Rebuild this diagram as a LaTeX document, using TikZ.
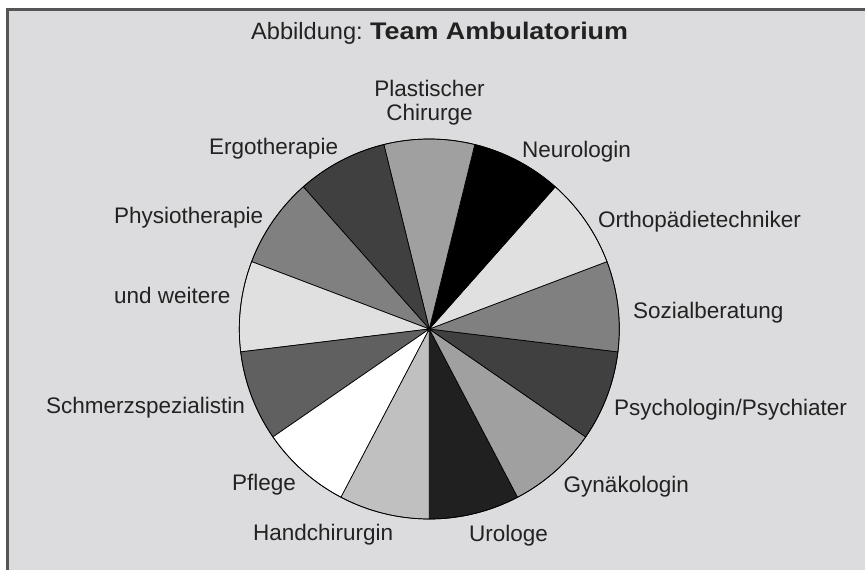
\documentclass[tikz,border=0pt]{standalone}
\usepackage{fontspec}
\setmainfont{Liberation Sans}
\definecolor{bg}{HTML}{DCDCDE}
\definecolor{framecol}{HTML}{555555}
\definecolor{txt}{HTML}{222222}
\definecolor{sUro}{HTML}{202020}
\definecolor{sGyn}{HTML}{A0A0A0}
\definecolor{sPsy}{HTML}{404040}
\definecolor{sSoz}{HTML}{808080}
\definecolor{sOrt}{HTML}{E0E0E0}
\definecolor{sNeu}{HTML}{000000}
\definecolor{sPla}{HTML}{A0A0A0}
\definecolor{sErg}{HTML}{404040}
\definecolor{sPhy}{HTML}{808080}
\definecolor{sUnd}{HTML}{E0E0E0}
\definecolor{sSch}{HTML}{606060}
\definecolor{sPfl}{HTML}{FFFFFF}
\definecolor{sHan}{HTML}{C0C0C0}
\begin{document}
\begin{tikzpicture}[x=1pt,y=1pt,
  lbl/.style={anchor=base west, inner sep=0pt, text=txt, font=\fontsize{22.5}{27}\selectfont},
  slice/.style={draw=black, line width=0.7pt, line join=round}]
\useasboundingbox (0,0) rectangle (865,-570);
\fill[white] (0,0) rectangle (865,-570);
\fill[bg] (7.5,-9.5) rectangle (870,-575);
\draw[framecol, line width=3pt] (7.5,-575) -- (7.5,-9.5) -- (870,-9.5);
% title
\node[anchor=base west, inner sep=0pt, text=txt, font=\fontsize{23.6}{27}\selectfont] (title1) at (251,-39.5) {Abbildung:};
\node[anchor=base west, inner sep=0pt, text=txt] (title2) at (370,-39.5) {\scalebox{1.12}[1]{\fontsize{24}{28}\selectfont\bfseries Team Ambulatorium}};
% pie
\coordinate (C) at (429.3,-329);
\foreach \c [count=\i from 0] in {sUro,sGyn,sPsy,sSoz,sOrt,sNeu,sPla,sErg,sPhy,sUnd,sSch,sPfl,sHan} {
  \pgfmathsetmacro\a{-90+\i*360/13}
  \pgfmathsetmacro\b{\a+360/13}
  \filldraw[slice, fill=\c] (C) -- ++(\a:190) arc[start angle=\a, end angle=\b, radius=190] -- cycle;
}
\draw[line width=0.7pt] (C) circle[radius=190];
% labels
\node[lbl, anchor=base] (pla1) at (429.5,-96.7) {Plastischer};
\node[lbl, anchor=base] (pla2) at (429.5,-120.7) {Chirurge};
\node[lbl] (erg) at (209,-154) {Ergotherapie};
\node[lbl] (neu) at (522,-157) {Neurologin};
\node[lbl] (ort) at (598,-227) {Orthopädietechniker};
\node[lbl] (phy) at (114,-223) {Physiotherapie};
\node[lbl] (soz) at (633,-318) {Sozialberatung};
\node[lbl] (und) at (114,-303) {und weitere};
\node[lbl] (psy) at (614,-415) {Psychologin/Psychiater};
\node[lbl] (sch) at (46,-413) {Schmerzspezialistin};
\node[lbl, anchor=base east] (gyn) at (689,-492) {Gynäkologin};
\node[lbl] (pfl) at (232,-490.7) {Pflege};
\node[lbl] (han) at (253,-540.7) {Handchirurgin};
\node[lbl] (uro) at (469,-541.7) {Urologe};
\end{tikzpicture}
\end{document}
